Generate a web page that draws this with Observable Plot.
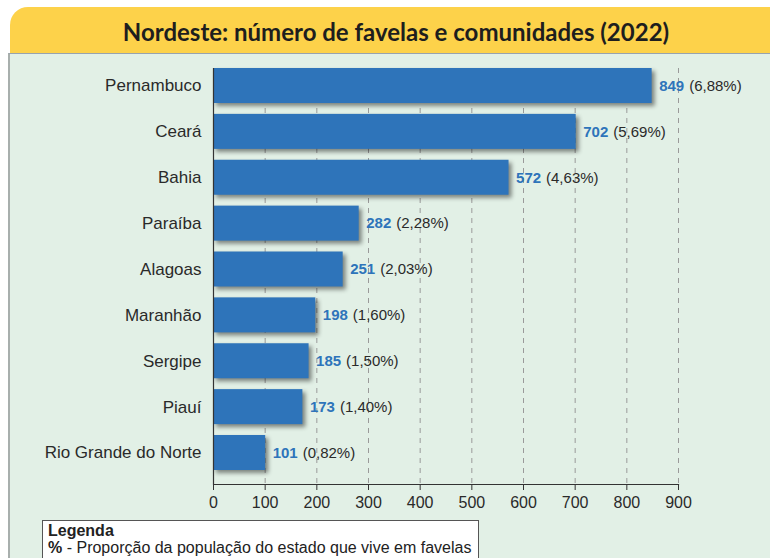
<!DOCTYPE html>
<html>
<head>
<meta charset="utf-8">
<script src="https://cdn.jsdelivr.net/npm/d3@7"></script>
<script src="https://cdn.jsdelivr.net/npm/@observablehq/plot@0.6"></script>
<style>
  html, body { margin: 0; padding: 0; background: #ffffff; }
  #wrap { position: relative; width: 770px; height: 558px; overflow: hidden; font-family: "Liberation Sans", Arial, sans-serif; }
  #header { position: absolute; left: 10px; top: 7px; width: 760px; height: 46px; background: #FDD24A; border-top-left-radius: 18px; box-sizing: border-box; padding-left: 12px; text-align: center; line-height: 50px; font-family: Lato, "Open Sans", sans-serif; font-weight: bold; font-size: 24px; color: #1e1e1e; }
  #panel { position: absolute; left: 8px; top: 53px; width: 762px; height: 505px; background: #E2F0E6; border-left: 2px solid #A8AFAD; border-top: 1px solid #98A3AE; box-sizing: border-box; }
  #chart { position: absolute; left: 0; top: 54px; }
  #legend { position: absolute; left: 42px; top: 520px; width: 437px; height: 40px; background: #fff; border: 1px solid #555; box-sizing: border-box; padding: 1px 4px 0 5px; font-size: 16px; line-height: 17px; color: #222; }
</style>
</head>
<body>
<div id="wrap">
  <div id="panel"></div>
  <div id="header">Nordeste: número de favelas e comunidades (2022)</div>
  <div id="chart"></div>
  <div id="legend"><b>Legenda</b><br><b>%</b> - Proporção da população do estado que vive em favelas</div>
</div>
<script>
const states = ["Pernambuco", "Ceará", "Bahia", "Paraíba", "Alagoas", "Maranhão", "Sergipe", "Piauí", "Rio Grande do Norte"];
const values = [849, 702, 572, 282, 251, 198, 185, 173, 101];
const shares = ["6,88%", "5,69%", "4,63%", "2,28%", "2,03%", "1,60%", "1,50%", "1,40%", "0,82%"];
const xTicks = [0, 100, 200, 300, 400, 500, 600, 700, 800, 900];

const data = states.map((s, i) => ({state: s, value: values[i], share: shares[i]}));

const plot = Plot.plot({
  width: 770,
  height: 462,
  marginLeft: 213,
  marginRight: 92,
  marginTop: 14,
  marginBottom: 32,
  style: {fontFamily: "'Liberation Sans', Arial, sans-serif", background: "transparent", color: "#222", overflow: "visible"},
  x: {domain: [0, 900]},
  y: {domain: states, paddingInner: 0.237, paddingOuter: 0.1526, align: 0, round: false},
  marks: [
    Plot.gridX(xTicks.slice(1), {stroke: "#9a9a9a", strokeOpacity: 1, strokeDasharray: "5,5"}),
    Plot.barX(data, {x: "value", y: "state", fill: "#2E74BA"}),
    Plot.ruleX([0], {stroke: "#333", strokeWidth: 1.2}),
    Plot.frame({anchor: "bottom", stroke: "#333", strokeWidth: 1.2}),
    Plot.text(data, {x: "value", y: "state", text: d => String(d.value), dx: 7, textAnchor: "start", fill: "#2E74BA", fontWeight: "bold", fontSize: 15}),
    Plot.text(data, {x: "value", y: "state", text: d => "(" + d.share + ")", dx: 37, textAnchor: "start", fill: "#2a2a2a", fontSize: 15}),
    Plot.axisY({tickSize: 0, tickPadding: 12, fontSize: 17, fill: "#2a2a2a", label: null}),
    Plot.axisX({ticks: xTicks, tickSize: 6, tickPadding: 6, fontSize: 16, fill: "#2a2a2a", stroke: "#333", label: null})
  ]
});
const barG = plot.querySelector('g[aria-label="bar"]');
if (barG) barG.style.filter = "drop-shadow(3px 3px 2px rgba(0,0,0,0.45))";
document.getElementById("chart").appendChild(plot);
</script>
</body>
</html>
